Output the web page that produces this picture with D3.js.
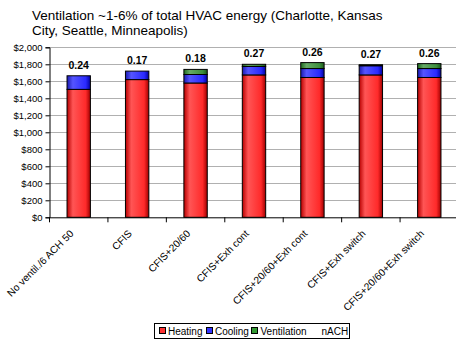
<!DOCTYPE html>
<html><head><meta charset="utf-8">
<script src="https://cdn.jsdelivr.net/npm/d3@7"></script>
<style>body{margin:0;background:#fff;}svg{display:block;font-family:"Liberation Sans",Arial,sans-serif;}</style>
</head><body>
<svg id="chart" width="456" height="339"></svg>
<script>
const categories = ["No ventil./6 ACH 50","CFIS","CFIS+20/60","CFIS+Exh cont","CFIS+20/60+Exh cont","CFIS+Exh switch","CFIS+20/60+Exh switch"];
const heating = [1505, 1620, 1580, 1675, 1645, 1675, 1645];
const cooling = [160, 100, 100, 100, 105, 108, 105];
const ventilation = [0, 0, 60, 25, 70, 12, 58];
const nACH = ["0.24","0.17","0.18","0.27","0.26","0.27","0.26"];
const yTicks = [0,200,400,600,800,1000,1200,1400,1600,1800,2000];
const seriesNames = ["Heating","Cooling","Ventilation"];
const colors = {Heating:"#ff3333", Cooling:"#3333ff", Ventilation:"#339933"};

const svg = d3.select("#chart");
const x0 = 49, x1 = 458, yTop = 47.3, yBot = 217.3;
const x = d3.scaleBand().domain(categories).range([x0, x1]).paddingInner(0.6).paddingOuter(0.3);
const xb = d3.scaleBand().domain(categories).range([x0, x1]);
const y = d3.scaleLinear().domain([0, 2000]).range([yBot, yTop]);

// gradients
const defs = svg.append("defs");
const grads = {Heating:["#b80000","#ff5555","#ff2a2a","#a00000"],
               Cooling:["#1a1ab0","#5555ff","#2a2aff","#0000a0"],
               Ventilation:["#1f6b1f","#66aa66","#3d8f3d","#1a5a1a"]};
Object.entries(grads).forEach(([k,c])=>{
  const g = defs.append("linearGradient").attr("id","g"+k).attr("x1","0").attr("x2","1").attr("y1","0").attr("y2","0");
  g.append("stop").attr("offset","0%").attr("stop-color",c[0]);
  g.append("stop").attr("offset","25%").attr("stop-color",c[1]);
  g.append("stop").attr("offset","80%").attr("stop-color",c[2]);
  g.append("stop").attr("offset","100%").attr("stop-color",c[3]);
});

// title
const title = svg.append("text").attr("font-size",13.5).attr("fill","#000");
title.append("tspan").attr("x",32).attr("y",20).text("Ventilation ~1-6% of total HVAC energy (Charlotte, Kansas");
title.append("tspan").attr("x",32).attr("y",35).text("City, Seattle, Minneapolis)");

// grid
svg.append("g").selectAll("line").data(yTicks.filter(d=>d>0)).join("line")
  .attr("x1",x0).attr("x2",456).attr("y1",d=>Math.round(y(d))+0.5).attr("y2",d=>Math.round(y(d))+0.5)
  .attr("stroke","#b0b0b0").attr("stroke-width",1);

// y axis
const yAxis = svg.append("g").attr("transform",`translate(${x0+0.5},0)`)
  .call(d3.axisLeft(y).tickValues(yTicks).tickSize(4).tickFormat(d=>"$"+d3.format(",")(d)));
yAxis.select(".domain").attr("stroke","#000");
yAxis.selectAll("text").attr("font-size",9.5).attr("fill","#000");
yAxis.selectAll("line").attr("stroke","#000");

// stacks
const data = categories.map((c,i)=>({cat:c, Heating:heating[i], Cooling:cooling[i], Ventilation:ventilation[i]}));
const stack = d3.stack().keys(seriesNames)(data);
svg.append("g").selectAll("g").data(stack).join("g")
  .attr("fill",s=>`url(#g${s.key})`)
  .selectAll("rect").data(s=>s.filter(d=>d[1]-d[0]>0)).join("rect")
  .attr("x",d=>x(d.data.cat)+0.5).attr("width",x.bandwidth())
  .attr("y",d=>y(d[1])).attr("height",d=>y(d[0])-y(d[1]))
  .attr("stroke","#000").attr("stroke-width",1);

// x axis
svg.append("line").attr("x1",x0).attr("x2",456).attr("y1",yBot+0.5).attr("y2",yBot+0.5).attr("stroke","#000");
svg.append("g").selectAll("line").data(categories).join("line")
  .attr("x1",d=>xb(d)+0.5).attr("x2",d=>xb(d)+0.5).attr("y1",yBot).attr("y2",yBot+5).attr("stroke","#000");
svg.append("g").selectAll("text").data(categories).join("text")
  .attr("transform",d=>`translate(${xb(d)+xb.bandwidth()/2-4},${yBot+17}) rotate(-45)`)
  .attr("text-anchor","end").attr("font-size",10.2).attr("fill","#000").text(d=>d);

// nACH labels
const totals = data.map(d=>d.Heating+d.Cooling+d.Ventilation);
svg.append("g").selectAll("text").data(categories).join("text")
  .attr("x",d=>x(d)+x.bandwidth()/2+0.5).attr("y",(d,i)=>y(totals[i])-7)
  .attr("text-anchor","middle").attr("font-size",10.5).attr("font-weight","bold").attr("fill","#000")
  .text((d,i)=>nACH[i]);

// legend
const lg = svg.append("g");
lg.append("rect").attr("x",154.5).attr("y",323.5).attr("width",195).attr("height",15).attr("fill","#fff").attr("stroke","#000");
const items = [{n:"Heating",x:159,tx:168},{n:"Cooling",x:206,tx:215},{n:"Ventilation",x:251,tx:260.5},{n:"nACH",x:0,tx:321.5,noSwatch:true}];
items.forEach(it=>{
  if(!it.noSwatch){
    lg.append("rect").attr("x",it.x+0.5).attr("y",327.5).attr("width",6).attr("height",6)
      .attr("fill",colors[it.n]).attr("stroke","#000");
  }
  lg.append("text").attr("x",it.tx).attr("y",334.5).attr("font-size",10).attr("fill","#000").text(it.n);
});
</script>
</body></html>
